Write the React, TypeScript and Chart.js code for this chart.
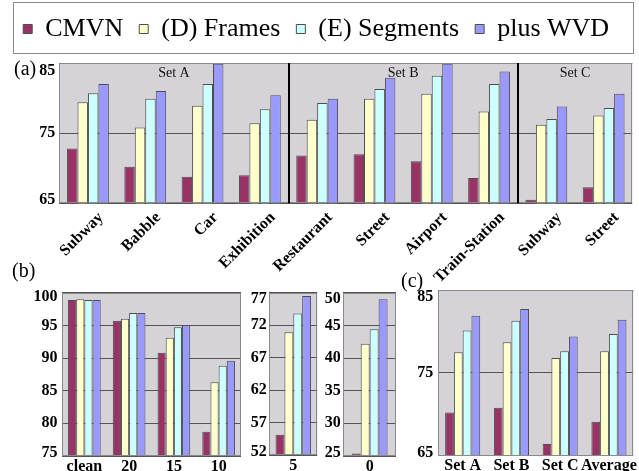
import React, { useEffect, useRef } from 'react';
import { Chart, registerables } from 'chart.js';

Chart.register(...registerables);

// ---------- data ----------
const SERIES = ['CMVN', '(D) Frames', '(E) Segments', 'plus WVD'];
const COLORS = ['#993366', '#ffffcc', '#ccffff', '#9999ff'];

const A_LABELS = ['Subway', 'Babble', 'Car', 'Exhibition', 'Restaurant', 'Street', 'Airport', 'Train-Station', 'Subway', 'Street'];
const A_CMVN = [72.8, 70.2, 68.8, 69.0, 71.8, 72.0, 71.0, 68.6, 65.5, 67.3];
const A_FRAMES = [79.4, 75.8, 78.9, 76.4, 76.9, 79.9, 80.6, 78.1, 76.2, 77.5];
const A_SEGMENTS = [80.7, 79.9, 82.0, 78.4, 79.3, 81.3, 83.2, 82.0, 77.0, 78.6];
const A_WVD = [82.0, 81.0, 84.9, 80.4, 79.9, 82.9, 84.9, 83.8, 78.8, 80.6];
const A_TICKS = [65, 75, 85];
const SET_NAMES = ['Set A', 'Set B', 'Set C'];
const SET_SIZES = [4, 4, 2];

const B_LABELS = ['clean', '20', '15', '10'];
const B_CMVN = [98.9, 95.7, 90.8, 78.7];
const B_FRAMES = [99.0, 96.0, 93.1, 86.3];
const B_SEGMENTS = [98.9, 96.9, 94.7, 88.8];
const B_WVD = [98.9, 96.9, 95.0, 89.6];
const B_TICKS = [75, 80, 85, 90, 95, 100];

const B5_LABELS = ['5'];
const B5_CMVN = [55.1];
const B5_FRAMES = [70.9];
const B5_SEGMENTS = [73.8];
const B5_WVD = [76.5];
const B5_TICKS = [52, 57, 62, 67, 72, 77];

const B0_LABELS = ['0'];
const B0_CMVN = [25.4];
const B0_FRAMES = [42.2];
const B0_SEGMENTS = [44.4];
const B0_WVD = [49.0];
const B0_TICKS = [25, 30, 35, 40, 45, 50];

const C_LABELS = ['Set A', 'Set B', 'Set C', 'Average'];
const C_CMVN = [70.2, 70.8, 66.4, 69.1];
const C_FRAMES = [77.5, 78.7, 76.8, 77.6];
const C_SEGMENTS = [80.1, 81.3, 77.6, 79.7];
const C_WVD = [81.9, 82.7, 79.4, 81.4];
const C_TICKS = [65, 75, 85];

// ---------- styling helpers ----------
const SERIF = "'Liberation Serif', 'Times New Roman', serif";
const PLOT_BG = '#d6d3d8';

const bgPlugin = {
  id: 'plotBg',
  beforeDraw(chart: any) {
    const { ctx, chartArea: a } = chart;
    ctx.save();
    ctx.fillStyle = PLOT_BG;
    ctx.fillRect(a.left, a.top, a.right - a.left, a.bottom - a.top);
    ctx.restore();
  },
};

const legendHeightPlugin = {
  id: 'legendHeight',
  beforeLayout(chart: any, _args: any, opts: any) {
    const lg = chart.legend;
    if (lg && !lg.__patched && opts && opts.height) {
      const orig = lg.fit.bind(lg);
      lg.fit = function () {
        orig();
        this.height = opts.height;
      };
      lg.__patched = true;
    }
  },
};

type Spec = {
  key: string;
  left: number;
  top: number;
  w: number;
  h: number;
  labels: string[];
  series: number[][];
  ticks: number[];
  yWidth: number;
  yPad: number;
  topShift: number;
  xHeight: number;
  padTop: number;
  padRight: number;
  catPct: number;
  rotate?: boolean;
  legend?: boolean;
  extra?: (chart: any) => void;
};

function buildConfig(s: Spec): any {
  const overlay = {
    id: 'overlay',
    afterDraw(chart: any) {
      const { ctx, chartArea: a } = chart;
      const ys = chart.scales.y;
      ctx.save();
      ctx.strokeStyle = '#8a8a8a';
      ctx.lineWidth = 1;
      ctx.strokeRect(Math.round(a.left) + 0.5, Math.round(a.top) + 0.5, Math.round(a.right - a.left) - 1, Math.round(a.bottom - a.top) - 1);
      // y tick labels, kept inside the plot height like the original figure
      ctx.fillStyle = '#000';
      ctx.font = `bold 16px ${SERIF}`;
      ctx.textAlign = 'right';
      ctx.textBaseline = 'middle';
      s.ticks.forEach((v) => {
        const py = ys.getPixelForValue(v);
        const yy = Math.min(Math.max(py, a.top + s.topShift), a.bottom - 3);
        ctx.fillText(String(v), a.left - s.yPad, yy);
      });
      ctx.restore();
      if (s.extra) s.extra(chart);
    },
  };
  return {
    type: 'bar',
    data: {
      labels: s.labels,
      datasets: s.series.map((d, i) => ({
        label: SERIES[i],
        data: d,
        backgroundColor: COLORS[i],
        borderColor: '#4d4d4d',
        borderWidth: 1,
        categoryPercentage: s.catPct,
        barPercentage: 1,
      })),
    },
    options: {
      responsive: false,
      animation: false,
      devicePixelRatio: 1,
      events: [],
      layout: { padding: { top: s.padTop, right: s.padRight, left: 0, bottom: 0 } },
      plugins: {
        tooltip: { enabled: false },
        legendHeight: { height: s.legend ? 63 : 0 },
        legend: s.legend
          ? {
              display: true,
              position: 'top',
              labels: {
                boxWidth: 9,
                boxHeight: 9,
                padding: 16,
                color: '#000',
                font: { family: SERIF, size: 26 },
              },
            }
          : { display: false },
      },
      scales: {
        x: {
          grid: { display: false, drawTicks: false },
          border: { display: false },
          ticks: {
            autoSkip: false,
            maxRotation: s.rotate ? 45 : 0,
            minRotation: s.rotate ? 45 : 0,
            padding: s.rotate ? 5 : 1,
            labelOffset: s.rotate ? 13 : 0,
            color: '#000',
            font: { family: SERIF, size: 16, weight: 'bold' },
          },
          afterFit: (sc: any) => {
            sc.height = s.xHeight;
          },
        },
        y: {
          min: s.ticks[0],
          max: s.ticks[s.ticks.length - 1],
          grid: { color: '#555555', lineWidth: 1, drawTicks: false },
          border: { display: false },
          afterBuildTicks: (sc: any) => {
            sc.ticks = s.ticks.map((v) => ({ value: v }));
          },
          ticks: { display: false },
          afterFit: (sc: any) => {
            sc.width = s.yWidth;
          },
        },
      },
    },
    plugins: [bgPlugin, legendHeightPlugin, overlay],
  };
}

function drawPanelLabel(ctx: any, text: string, x: number, y: number) {
  ctx.save();
  ctx.fillStyle = '#000';
  ctx.font = `20px ${SERIF}`;
  ctx.textAlign = 'left';
  ctx.textBaseline = 'middle';
  ctx.fillText(text, x, y);
  ctx.restore();
}

function extraA(chart: any) {
  const { ctx, chartArea: a } = chart;
  const xs = chart.scales.x;
  // legend frame
  ctx.save();
  ctx.strokeStyle = '#8a8a8a';
  ctx.lineWidth = 1;
  ctx.strokeRect(13.5, 2.5, 620, 51);
  ctx.restore();
  // set separators and names
  let start = 0;
  ctx.save();
  SET_SIZES.forEach((n, k) => {
    const end = start + n - 1;
    const cx = (xs.getPixelForValue(start) + xs.getPixelForValue(end)) / 2;
    ctx.fillStyle = '#111';
    ctx.font = `14px ${SERIF}`;
    ctx.textAlign = 'center';
    ctx.textBaseline = 'middle';
    ctx.fillText(SET_NAMES[k], cx, a.top + 10);
    if (k < SET_SIZES.length - 1) {
      const bx = Math.round((xs.getPixelForValue(end) + xs.getPixelForValue(end + 1)) / 2);
      ctx.strokeStyle = '#000';
      ctx.lineWidth = 2;
      ctx.beginPath();
      ctx.moveTo(bx, a.top);
      ctx.lineTo(bx, a.bottom);
      ctx.stroke();
    }
    start += n;
  });
  ctx.restore();
  drawPanelLabel(ctx, '(a)', 14, 70);
}

const SPECS: Spec[] = [
  {
    key: 'a', left: 0, top: 0, w: 639, h: 285,
    labels: A_LABELS, series: [A_CMVN, A_FRAMES, A_SEGMENTS, A_WVD], ticks: A_TICKS,
    yWidth: 59.3, yPad: 4, topShift: 8, xHeight: 285 - 203.3, padTop: 0, padRight: 6.7, catPct: 0.73,
    rotate: true, legend: true, extra: extraA,
  },
  {
    key: 'b1', left: 0, top: 260, w: 245, h: 211,
    labels: B_LABELS, series: [B_CMVN, B_FRAMES, B_SEGMENTS, B_WVD], ticks: B_TICKS,
    yWidth: 62, yPad: 4.5, topShift: 4, xHeight: 15, padTop: 32.7, padRight: 4, catPct: 0.73,
    extra: (c: any) => drawPanelLabel(c.ctx, '(b)', 12, 12),
  },
  {
    key: 'b5', left: 245, top: 260, w: 75, h: 211,
    labels: B5_LABELS, series: [B5_CMVN, B5_FRAMES, B5_SEGMENTS, B5_WVD], ticks: B5_TICKS,
    yWidth: 24.3, yPad: 2.5, topShift: 6, xHeight: 16, padTop: 32.7, padRight: 2.7, catPct: 0.74,
  },
  {
    key: 'b0', left: 320, top: 260, w: 80, h: 211,
    labels: B0_LABELS, series: [B0_CMVN, B0_FRAMES, B0_SEGMENTS, B0_WVD], ticks: B0_TICKS,
    yWidth: 23.3, yPad: 2.5, topShift: 6, xHeight: 15, padTop: 32.7, padRight: 4, catPct: 0.68,
  },
  {
    key: 'c', left: 400, top: 260, w: 239, h: 211,
    labels: C_LABELS, series: [C_CMVN, C_FRAMES, C_SEGMENTS, C_WVD], ticks: C_TICKS,
    yWidth: 38.3, yPad: 5, topShift: 6.5, xHeight: 15.3, padTop: 30, padRight: 5.7, catPct: 0.72,
    extra: (c: any) => drawPanelLabel(c.ctx, '(c)', 1, 22),
  },
];

function Panel({ spec }: { spec: Spec }) {
  const ref = useRef<HTMLCanvasElement | null>(null);
  useEffect(() => {
    if (!ref.current) return;
    const chart = new Chart(ref.current, buildConfig(spec));
    return () => chart.destroy();
  }, [spec]);
  return (
    <canvas
      ref={ref}
      width={spec.w}
      height={spec.h}
      style={{ position: 'absolute', left: spec.left, top: spec.top, width: spec.w, height: spec.h }}
    />
  );
}

export default function App() {
  return (
    <div style={{ position: 'absolute', left: 0, top: 0, width: 639, height: 471, background: '#fff', overflow: 'hidden' }}>
      {SPECS.map((s) => (
        <Panel key={s.key} spec={s} />
      ))}
    </div>
  );
}
